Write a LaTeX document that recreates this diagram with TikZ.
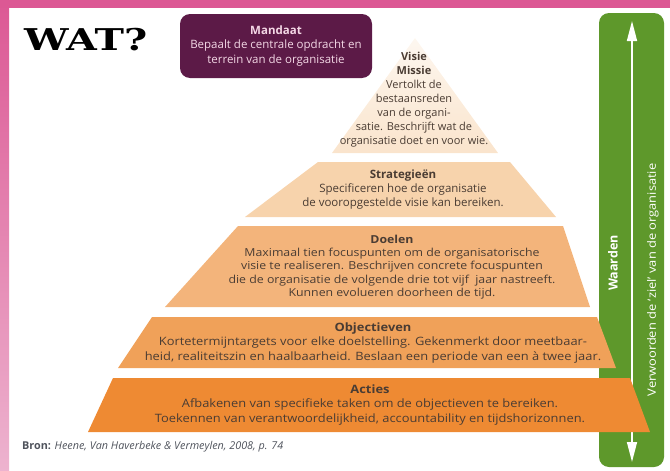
\documentclass[tikz,border=0pt]{standalone}
\usepackage{fontspec}
\setmainfont{Open Sans}
\newfontfamily\widefont[FakeStretch=1.12]{Open Sans}
\newfontfamily\watfont{DejaVu Serif}
\usetikzlibrary{arrows.meta,positioning}

\definecolor{pinktop}{HTML}{DC5894}
\definecolor{pinkbot}{HTML}{EDB3CF}
\definecolor{mandaatcol}{HTML}{5C1A47}
\definecolor{mandaattxt}{HTML}{F4D8E6}
\definecolor{visiecol}{HTML}{FAE4CC}
\definecolor{stratcol}{HTML}{F7D3AC}
\definecolor{doelcol}{HTML}{F3B47B}
\definecolor{objcol}{HTML}{F0A159}
\definecolor{actcol}{HTML}{EE8A33}
\definecolor{waardencol}{HTML}{5E982B}
\definecolor{txtcol}{HTML}{4A3C33}
\definecolor{broncol}{HTML}{4F535C}

\begin{document}
\begin{tikzpicture}[x=1pt,y=-1pt,
  bandtext/.style={align=center,text=txtcol,inner sep=0pt,font=\fontsize{11.5}{14}\selectfont},
  widetext/.style={bandtext,font=\widefont\fontsize{11.5}{14.2}\selectfont},
  mandaatbox/.style={fill=mandaatcol,text=mandaattxt,rounded corners=10pt,align=center,
    minimum width=192pt,minimum height=64pt,inner sep=0pt,font=\fontsize{11.5}{14.5}\selectfont},
  sidetext/.style={rotate=90,text=white,inner sep=0pt,font=\fontsize{12.5}{14}\selectfont}]
\useasboundingbox (0,0) rectangle (670,471);

\shade[top color=pinktop,bottom color=pinkbot] (0,0) rectangle (9,471);
\fill[pinktop] (0,0) rectangle (670,8);

\node[anchor=west,inner sep=0pt] (wat) at (24,40)
  {\scalebox{1.32}[1]{\watfont\bfseries\fontsize{30}{30}\selectfont WAT?}};

\node[mandaatbox] (mandaat) at (276,46)
  {\textbf{Mandaat}\\Bepaalt de centrale opdracht en\\terrein van de organisatie};

% waarden
\fill[waardencol,rounded corners=10pt] (599,13) rectangle (664,467);
\coordinate (atop) at (632,21);
\coordinate (abot) at (632,462);
\draw[white,line width=1.5pt,{Triangle[width=10pt,length=20pt]}-{Triangle[width=10pt,length=20pt]}] (atop) -- (abot);

% pyramide
\shade[top color=visiecol!30,bottom color=visiecol] (415,38) -- (498,153) -- (332,153) -- cycle;
\foreach \yt/\yb/\tl/\tr/\bl/\br/\col in {162/217/318/510/245/556/stratcol,
    226/307/238/563/165/590/doelcol,317/368/152/597/118/616/objcol,378/432/113/630/88/650/actcol}
  \fill[\col] (\tl,\yt) -- (\tr,\yt) -- (\br,\yb) -- (\bl,\yb) -- cycle;

\node[bandtext,font=\fontsize{11}{14}\selectfont] (visie) at (414,100)
  {\textbf{Visie}\\\textbf{Missie}\\Vertolkt de\\bestaansreden\\van de organi-\\satie. Beschrijft wat de\\organisatie doet en voor wie.};
\node[bandtext] (strat) at (403,190)
  {\textbf{Strategieën}\\Specificeren hoe de organisatie\\de vooropgestelde visie kan bereiken.};
\node[widetext,font=\widefont\fontsize{11}{13.3}\selectfont] (doelen) at (392,267)
  {\textbf{Doelen}\\Maximaal tien focuspunten om de organisatorische\\visie te realiseren. Beschrijven concrete focuspunten\\die de organisatie de volgende drie tot vijf \ jaar nastreeft.\\Kunnen evolueren doorheen de tijd.};
\node[widetext] (obj) at (373,343)
  {\textbf{Objectieven}\\Kortetermijntargets voor elke doelstelling. Gekenmerkt door meetbaar-\\heid, realiteitszin en haalbaarheid. Beslaan een periode van een à twee jaar.};
\node[widetext] (acties) at (370,405)
  {\textbf{Acties}\\Afbakenen van specifieke taken om de objectieven te bereiken.\\Toekennen van verantwoordelijkheid, accountability en tijdshorizonnen.};

\node[sidetext] (waarden) at (613,263) {\textbf{Waarden}};
\node[sidetext,font=\widefont\fontsize{11.5}{14}\selectfont] (ziel) at (653,280) {Verwoorden de ‘ziel’ van de organisatie};

\node[anchor=west,inner sep=0pt,text=broncol,font=\fontsize{10.8}{12}\selectfont] (bron) at (22,447)
  {\textbf{Bron:} \textit{Heene, Van Haverbeke \& Vermeylen, 2008, p. 74}};
\end{tikzpicture}
\end{document}
